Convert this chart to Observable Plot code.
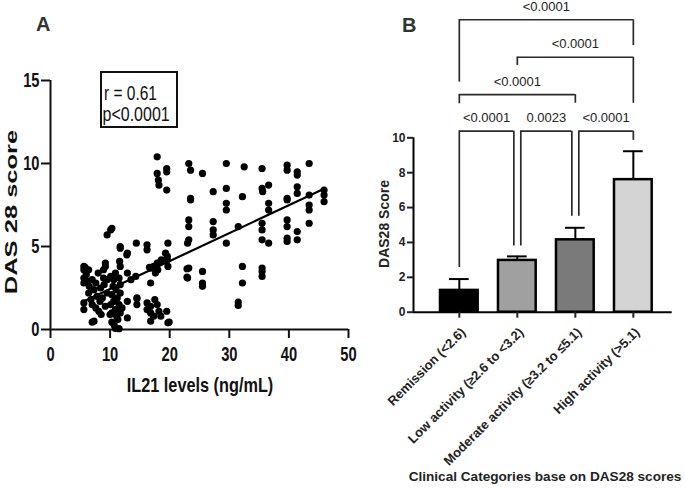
<!DOCTYPE html>
<html><head><meta charset="utf-8">
<script src="https://cdn.jsdelivr.net/npm/d3@7"></script>
<script src="https://cdn.jsdelivr.net/npm/@observablehq/plot@0.6"></script>
<style>
body{margin:0;background:#fff;width:685px;height:488px;position:relative;overflow:hidden;font-family:"Liberation Sans",Arial,sans-serif;color:#111}
.abs{position:absolute;white-space:nowrap;line-height:1}
#a,#b{position:absolute;top:0}
</style></head><body>
<div id="a" style="left:0"></div>
<div id="b" style="left:370px"></div>
<div class="abs" style="left:36px;top:14px;font-weight:bold;font-size:20px;color:#333">A</div>
<div class="abs" style="left:402px;top:15px;font-weight:bold;font-size:20px;color:#333">B</div>
<div class="abs" style="left:100px;top:71px;width:78px;height:57px;border:2px solid #111;box-sizing:border-box"></div>
<div class="abs" style="left:104px;top:83px;font-size:15.5px;transform:scaleY(1.3);transform-origin:0 0">r = 0.61</div>
<div class="abs" style="left:102.5px;top:104px;font-size:16px;transform:scaleY(1.3);transform-origin:0 0">p&lt;0.0001</div>
<div class="abs" style="left:11px;top:212px;font-size:17px;font-weight:bold;transform:translate(-50%,-50%) rotate(-90deg) scaleX(1.5)">DAS 28 score</div>
<div class="abs" style="left:200px;top:375px;font-size:16.3px;font-weight:bold;transform:translateX(-50%) scaleY(1.22);transform-origin:50% 0">IL21 levels (ng/mL)</div>
<div class="abs" style="left:384px;top:224px;font-size:14px;font-weight:bold;color:#222;transform:translate(-50%,-50%) rotate(-90deg)">DAS28 Score</div>
<div class="abs" style="left:545px;top:470px;font-size:13.6px;font-weight:bold;color:#222;transform:translateX(-50%)">Clinical Categories base on DAS28 scores</div>
<script>
// ---------- Panel A data ----------
const il21 = [
17.9,17.9,18.1,18.2,19.5,19.5,19.5,23.2,23.5,25.5,29.5,32.5,35.5,39.7,39.7,41.4,41.4,43.4,
27.3,29.5,29.5,29.5,32.2,35.5,35.6,36.6,36.6,36.6,39.7,39.7,41.4,41.4,43.4,43.4,43.4,45.9,45.9,45.9,23.5,23.5,
23.2,23.2,23.2,23.0,27.3,27.3,27.3,29.5,31.5,35.5,35.5,35.5,36.6,39.7,39.7,39.7,39.7,41.4,41.4,43.4,
23.2,23.0,25.5,25.5,25.5,32.2,32.2,35.5,35.5,35.5,31.5,31.5,
10.1,9.5,10.3,11.7,11.7,14.4,16.2,16.2,19.7,19.3,12.8,11.6,11.7,9.2,8.9,5.6,5.6,6.4,
16.8,17.3,17.6,18.5,19.6,19.7,19.6,14.3,12.9,16.8,
5.6,5.6,6.2,7.0,7.6,8.4,8.9,9.5,10.1,10.6,10.9,11.5,11.7,
6.4,7.3,7.8,8.7,9.5,10.3,11.2,11.7,12.9,14.5,14.5,
5.6,5.6,7.0,7.6,8.1,9.2,10.1,10.3,10.9,11.5,11.7,
7.0,7.3,10.3,10.7,11.5,11.1,12.9,
16.2,16.2,16.8,16.8,17.3,17.9,18.2,18.5,19.5,19.7,16.8,
6.0,8.0,9.0,10.5,11.0,6.8,8.3,10.6,11.3,10.0,6.5,8.5,12.0,17.5,18.0,13.5,12.9,9.2,5.8,14.5,16.6,17.9,18.6,22.9,22.9,19.9,10.9
];
const das28 = [
10.4,9.4,9.0,8.7,9.7,9.5,8.4,10.0,9.6,9.4,10.0,9.8,9.7,9.9,9.6,9.5,9.3,10.0,
8.3,8.5,7.6,7.2,8.0,8.5,8.3,8.7,7.6,7.2,7.9,7.8,8.6,8.2,8.1,7.5,7.2,8.4,8.1,7.7,7.9,7.8,
6.6,6.2,5.4,5.2,6.5,6.0,5.7,5.2,6.2,6.4,6.0,5.4,5.2,6.6,6.2,5.5,5.3,5.9,5.4,6.4,
3.7,3.1,3.5,2.8,2.6,3.8,2.8,3.7,3.5,3.2,1.65,1.45,
6.0,5.7,6.1,5.0,4.9,5.2,5.1,4.8,5.2,4.6,4.5,4.1,3.8,3.8,3.6,3.8,3.6,3.6,
3.7,3.8,3.4,4.1,4.4,3.8,4.2,3.2,3.4,2.8,
3.1,2.8,2.9,3.0,2.8,2.5,3.1,3.0,3.2,3.0,3.4,3.1,2.7,
2.2,2.4,2.0,1.9,2.2,2.1,1.9,2.2,1.7,1.9,1.5,
1.6,1.2,1.5,1.3,1.1,1.4,1.5,1.0,1.2,1.5,1.0,
0.44,0.5,0.44,0.25,0.05,0.8,0.7,
1.6,1.2,1.4,1.0,0.8,1.5,1.1,0.8,1.1,0.4,0.5,
3.3,3.4,2.7,2.6,2.4,1.8,1.7,1.7,0.6,0.9,2.6,0.9,1.3,1.8,3.6,3.0,4.6,4.0,3.75,1.85,3.75,4.0,4.2,3.66,3.15,0.44,0.06
];
const fitX = [5.6, 45.9];
const fitY = [1.7, 8.48];
const xTicksA = [0, 10, 20, 30, 40, 50];
const yTicksA = [0, 5, 10, 15];

// ---------- Panel B data ----------
const catLabels = ["Remission (<2.6)", "Low activity (\u22652.6 to <3.2)", "Moderate activity (\u22653.2 to \u22645.1)", "High activity (>5.1)"];
const catMeans = [1.25, 2.97, 4.15, 7.6];
const catSD = [0.65, 0.23, 0.69, 1.63];
const catFills = ["#000000", "#a0a0a0", "#7a7a7a", "#d4d4d4"];
const yTicksB = [0, 2, 4, 6, 8, 10];
const bracketFrom = [0, 1, 2, 0, 1, 0];
const bracketTo = [1, 2, 3, 2, 3, 3];
const bracketLevel = [10.38, 10.38, 10.38, 12.48, 14.62, 16.77];
const bracketLeftFoot = [2.56, 3.8, 5.5, 11.95, 14.15, 13.19];
const bracketRightFoot = [3.8, 5.5, 9.85, 11.98, 11.98, 15.29];
const bracketP = ["<0.0001", "0.0023", "<0.0001", "<0.0001", "<0.0001", "<0.0001"];

// ---------- Panel A ----------
const pts = il21.map((x, i) => ({x, y: das28[i]}));
const fit = fitX.map((x, i) => ({x, y: fitY[i]}));
const sans = "'Liberation Sans',Arial,sans-serif";
const plotA = Plot.plot({
  width: 360, height: 400,
  marginLeft: 50, marginRight: 12, marginTop: 80, marginBottom: 71,
  style: {fontFamily: sans, color: "#111", background: "transparent", overflow: "visible"},
  x: {domain: [0, 50]},
  y: {domain: [0, 15]},
  marks: [
    Plot.axisX({ticks: xTicksA, tickSize: 9, tickPadding: 8, fontSize: 15.5, fontWeight: "bold", strokeWidth: 2, label: null}),
    Plot.axisY({ticks: yTicksA, tickSize: 9, tickPadding: 2, fontSize: 15.5, fontWeight: "bold", strokeWidth: 2, label: null}),
    Plot.ruleY([0], {strokeWidth: 2}),
    Plot.ruleX([0], {y1: 0, y2: 15, strokeWidth: 2}),
    Plot.dot(pts, {x: "x", y: "y", r: 3.6, fill: "#000"}),
    Plot.line(fit, {x: "x", y: "y", strokeWidth: 2.2, stroke: "#000"})
  ]
});
// the reference's panel A lettering is tall and narrow: stretch tick labels vertically
d3.select(plotA).selectAll('g[aria-label$="tick label"] text').each(function() {
  const x = +this.getAttribute("x") || 0, y = +this.getAttribute("y") || 0;
  const t = this.getAttribute("transform") || "";
  this.setAttribute("transform", `${t} translate(${x},${y}) scale(0.95,1.3) translate(${-x},${-y})`);
});
document.getElementById("a").appendChild(plotA);

// ---------- Panel B ----------
const xDomainB = [-0.79, 3.67];
const barHalf = 0.325, capHalf = 0.17, shift = 0.06;
const cats = catLabels.map((label, i) => ({i, label, mean: catMeans[i], top: catMeans[i] + catSD[i], fill: catFills[i]}));
const brackets = bracketFrom.map((f, k) => {
  const t = bracketTo[k], lv = bracketLevel[k];
  const shared = e => bracketFrom.some((g, j) => j !== k && bracketLevel[j] === lv && (g === e || bracketTo[j] === e));
  const x1 = f + (shared(f) ? shift : 0), x2 = t - (shared(t) ? shift : 0);
  return {x1, x2, lv, lf: bracketLeftFoot[k], rf: bracketRightFoot[k], p: bracketP[k]};
});
const legs = brackets.flatMap(b => [{x: b.x1, y1: b.lf, y2: b.lv}, {x: b.x2, y1: b.rf, y2: b.lv}]);
const catIdx = catLabels.map((_, i) => i);
const plotB = Plot.plot({
  width: 315, height: 488,
  marginLeft: 43, marginRight: 13.3, marginTop: 137.3, marginBottom: 176.3,
  style: {fontFamily: sans, color: "#222", background: "transparent", overflow: "visible"},
  x: {domain: xDomainB},
  y: {domain: [0, 10]},
  marks: [
    Plot.rectY(cats, {x1: d => d.i - barHalf, x2: d => d.i + barHalf, y1: 0, y2: "mean", fill: "fill", stroke: "#000", strokeWidth: 2.5}),
    Plot.ruleX(cats, {x: "i", y1: "mean", y2: "top", strokeWidth: 2, stroke: "#000"}),
    Plot.ruleY(cats, {y: "top", x1: d => d.i - capHalf, x2: d => d.i + capHalf, strokeWidth: 2, stroke: "#000"}),
    Plot.ruleY([0], {strokeWidth: 2, stroke: "#000"}),
    Plot.ruleX([xDomainB[0]], {y1: 0, y2: 10, strokeWidth: 2, stroke: "#000"}),
    Plot.axisY({ticks: yTicksB, tickSize: 6, tickPadding: 2, fontSize: 12, fontWeight: "bold", strokeWidth: 2, label: null}),
    Plot.axisX({ticks: catIdx, tickFormat: () => "", tickSize: 6, strokeWidth: 2, label: null}),
    Plot.axisX({ticks: catIdx, tickFormat: i => catLabels[i], tickRotate: -45, tickSize: 0, tickPadding: 8, dx: 4, dy: 10, fontSize: 13, fontWeight: "bold", label: null}),
    Plot.ruleY(brackets, {y: "lv", x1: "x1", x2: "x2", strokeWidth: 1.7, stroke: "#2a2a2a"}),
    Plot.ruleX(legs, {x: "x", y1: "y1", y2: "y2", strokeWidth: 1.7, stroke: "#2a2a2a"}),
    Plot.text(brackets, {x: d => (d.x1 + d.x2) / 2, y: "lv", dy: -13, text: "p", fontSize: 13, fill: "#222"})
  ]
});
document.getElementById("b").appendChild(plotB);
</script>
</body></html>
